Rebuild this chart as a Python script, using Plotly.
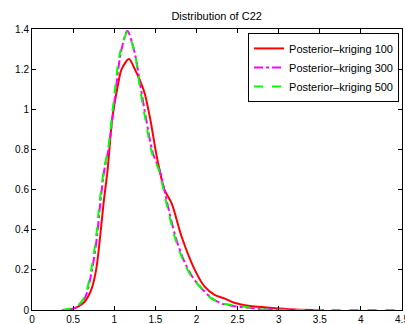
import plotly.graph_objects as go

title_text = "Distribution of C22"
series_names = ["Posterior\u2013kriging 100", "Posterior\u2013kriging 300", "Posterior\u2013kriging 500"]

x_100 = [0.45, 0.56, 0.64, 0.72, 0.78, 0.83, 0.87, 0.92, 0.975, 1.04, 1.09, 1.18, 1.25, 1.31, 1.37,
         1.44, 1.51, 1.55, 1.61, 1.70, 1.82, 1.98, 2.10, 2.22, 2.34, 2.46, 2.65, 2.85, 3.0, 3.2, 3.55]
y_100 = [0.0, 0.017, 0.041, 0.10, 0.20, 0.37, 0.53, 0.70, 0.95, 1.11, 1.20, 1.25, 1.20, 1.146, 1.08,
         0.947, 0.78, 0.70, 0.60, 0.53, 0.365, 0.20, 0.116, 0.075, 0.058, 0.036, 0.02, 0.013, 0.008, 0.003, 0.0]

x_300 = [0.45, 0.56, 0.65, 0.73, 0.79, 0.83, 0.88, 0.93, 1.0, 1.08, 1.16, 1.25, 1.32, 1.39, 1.47,
         1.55, 1.645, 1.745, 1.845, 1.95, 2.08, 2.2, 2.32, 2.45, 2.6, 2.8, 3.0, 3.3]
y_300 = [0.0, 0.017, 0.066, 0.20, 0.365, 0.53, 0.70, 0.80, 1.03, 1.28, 1.39, 1.28, 1.113, 0.947, 0.781,
         0.70, 0.532, 0.365, 0.249, 0.166, 0.10, 0.055, 0.03, 0.02, 0.012, 0.005, 0.002, 0.0]

x_500 = [0.36, 0.54, 0.64, 0.72, 0.78, 0.82, 0.875, 0.925, 0.99, 1.07, 1.16, 1.25, 1.31, 1.38, 1.46,
         1.54, 1.635, 1.735, 1.836, 1.94, 2.08, 2.18, 2.30, 2.42, 2.57, 2.73, 3.0, 4.5]
y_500 = [0.0, 0.017, 0.066, 0.20, 0.365, 0.53, 0.70, 0.80, 1.03, 1.28, 1.382, 1.279, 1.113, 0.947, 0.781,
         0.70, 0.532, 0.365, 0.249, 0.166, 0.10, 0.058, 0.035, 0.025, 0.017, 0.005, 0.001, 0.0]

fig = go.Figure()
fig.add_trace(go.Scatter(x=x_100, y=y_100, mode="lines", name=series_names[0],
                         line=dict(color="#ff0000", width=2, shape="spline", smoothing=0.8)))
fig.add_trace(go.Scatter(x=x_300, y=y_300, mode="lines", name=series_names[1],
                         line=dict(color="#ff00ff", width=2, dash="dashdot", shape="spline", smoothing=0.8)))
fig.add_trace(go.Scatter(x=x_500, y=y_500, mode="lines", name=series_names[2],
                         line=dict(color="#00ff00", width=2, dash="dash", shape="spline", smoothing=0.8)))

axis_common = dict(showline=True, linecolor="black", linewidth=1, mirror="allticks",
                   ticks="inside", ticklen=4, tickcolor="black", showgrid=False, zeroline=False,
                   ticklabeloverflow="allow", automargin=False,
                   tickfont=dict(size=10, color="black"))

fig.update_layout(
    width=405, height=324,
    margin=dict(l=32, r=3, t=29, b=14, autoexpand=False),
    paper_bgcolor="white", plot_bgcolor="white",
    font=dict(family="Liberation Sans, Arial, sans-serif", size=11, color="black"),
    title=dict(text=title_text, x=0.535, xanchor="center", y=1 - 16 / 324, yanchor="middle",
               yref="container", font=dict(size=11, color="black")),
    xaxis=dict(range=[0, 4.5], tick0=0, dtick=0.5, **axis_common),
    yaxis=dict(range=[0, 1.4], tick0=0, dtick=0.2, **axis_common),
    legend=dict(x=0.992, y=0.986, xanchor="right", yanchor="top", bgcolor="white",
                bordercolor="black", borderwidth=1, font=dict(size=11, color="black"),
                tracegroupgap=0),
    showlegend=True,
)

fig.write_html("out.html")
